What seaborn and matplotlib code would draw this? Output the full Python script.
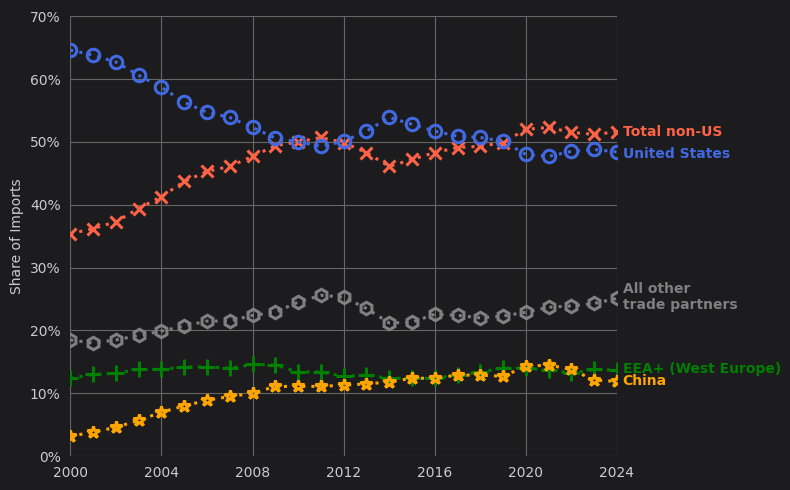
import matplotlib
matplotlib.use('Agg')
import matplotlib.pyplot as plt
import seaborn as sns
import pandas as pd
from matplotlib.ticker import PercentFormatter

years = list(range(2000, 2025))
us = [64.6, 63.8, 62.7, 60.6, 58.7, 56.3, 54.7, 53.9, 52.3, 50.6, 50.0, 49.3, 50.1, 51.7, 53.9, 52.8,
      51.7, 50.9, 50.7, 50.1, 48.0, 47.7, 48.5, 48.8, 48.4]
non_us = [35.4, 36.2, 37.3, 39.4, 41.3, 43.7, 45.3, 46.1, 47.7, 49.4, 50.0, 50.7, 49.9, 48.3, 46.1, 47.2,
          48.3, 49.1, 49.3, 49.9, 52.0, 52.3, 51.5, 51.2, 51.6]
other = [18.5, 18.0, 18.5, 19.2, 19.9, 20.7, 21.5, 21.5, 22.4, 22.9, 24.5, 25.6, 25.3, 23.5, 21.2, 21.3,
         22.6, 22.4, 22.0, 22.3, 22.9, 23.7, 23.9, 24.3, 25.1]
eea = [12.4, 13.0, 13.2, 13.8, 13.8, 14.2, 14.2, 14.0, 14.6, 14.5, 13.4, 13.4, 12.7, 12.9, 12.4, 12.4,
       12.4, 12.9, 13.4, 14.0, 14.0, 13.7, 13.2, 13.8, 13.7]
china = [3.2, 3.8, 4.6, 5.7, 7.0, 8.0, 8.9, 9.5, 10.0, 11.1, 11.1, 11.1, 11.3, 11.5, 11.8, 12.4,
         12.4, 12.9, 12.9, 12.7, 14.3, 14.5, 13.8, 12.1, 11.9]

series = [
    ("Total non-US", non_us, "#ff6347", "x", 51.5),
    ("United States", us, "#4169e1", "o", 48.1),
    ("All other\ntrade partners", other, "#808080", "h", 25.3),
    ("EEA+ (West Europe)", eea, "#008000", "+", 13.8),
    ("China", china, "#ffa500", "*", 12.0),
]

sns.set_style("dark")
bg = "#1c1c1e"
fig, ax = plt.subplots(figsize=(7.9, 4.9), dpi=100)
fig.patch.set_facecolor(bg)
ax.set_facecolor(bg)

for name, vals, col, mk, ly in series:
    df = pd.DataFrame({"year": years, "v": vals})
    hollow = mk in ("o", "h", "*")
    sns.lineplot(data=df, x="year", y="v", ax=ax, color=col, linestyle=(0, (1, 2)), linewidth=2.2,
                 marker=mk, markersize=9 if mk != "+" else 11,
                 markerfacecolor="none" if hollow else col,
                 markeredgecolor=col, markeredgewidth=2.2)
    ax.text(2024.25, ly, name, color=col, fontsize=10, fontweight="bold", va="center", ha="left",
            clip_on=False)

ax.set_xlim(2000, 2024)
ax.set_ylim(0, 70)
ax.set_xticks(range(2000, 2025, 4))
ax.yaxis.set_major_formatter(PercentFormatter(decimals=0))
ax.grid(True, color="#666666", linewidth=0.8)
ax.set_xlabel("")
ax.set_ylabel("Share of Imports", color="#cccccc", fontsize=10)
ax.tick_params(colors="#cccccc", labelsize=10)
for s in ax.spines.values():
    s.set_visible(False)
fig.subplots_adjust(left=0.089, right=0.781, top=0.967, bottom=0.069)
fig.savefig("out.png", dpi=100, facecolor=bg)
